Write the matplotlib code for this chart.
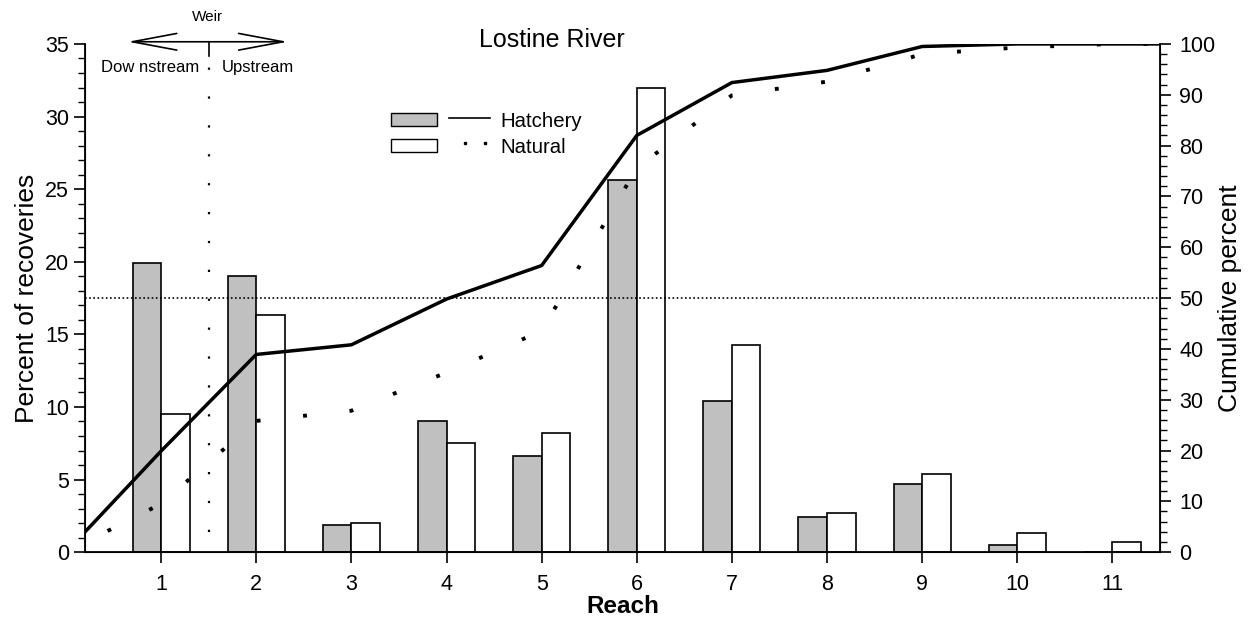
import matplotlib.pyplot as plt
import numpy as np

plt.rcParams['font.family'] = ['Liberation Sans', 'DejaVu Sans']

reach = np.arange(1, 12)
hatchery = [19.9, 19.0, 1.9, 9.0, 6.6, 25.6, 10.4, 2.4, 4.7, 0.5, 0.0]
natural = [9.5, 16.3, 2.0, 7.5, 8.2, 32.0, 14.3, 2.7, 5.4, 1.3, 0.7]
weir_pos = 1.5
x_lo, x_hi = 0.2, 11.5

fig = plt.figure(figsize=(12.5, 6.19), dpi=100)
ax = fig.add_axes([0.068, 0.108, 0.86, 0.821])
ax2 = ax.twinx()

w = 0.3
ax.bar(reach - w / 2, hatchery, width=w, color='#c0c0c0', edgecolor='black', lw=1.2, zorder=2)
ax.bar(reach + w / 2, natural, width=w, color='white', edgecolor='black', lw=1.2, zorder=2)

# cumulative curves: start at 0 before reach 1, run flat to the right edge
xs = np.concatenate([[0], reach, [x_hi]])
cum_h = np.cumsum([0] + hatchery)
cum_n = np.cumsum([0] + natural)
cum_h = np.append(cum_h, cum_h[-1]) / cum_h[-1] * 100
cum_n = np.append(cum_n, cum_n[-1]) / cum_n[-1] * 100
ax2.plot(xs, cum_h, color='black', lw=2.5, zorder=3)
ax2.plot(xs, cum_n, color='black', lw=2.8, ls=(0, (1, 11)), zorder=3)
ax2.axhline(50, color='black', lw=1.2, ls=(0, (1, 1.5)))

# weir marker
ax.plot([weir_pos, weir_pos], [1.4, 34.0], color='black', lw=1.6, ls=(0, (1, 12)), zorder=3)
ax.plot([weir_pos, weir_pos], [34.2, 35.15], color='black', lw=1.2, clip_on=False)
ax.annotate('', xy=(0.65, 35.15), xytext=(2.33, 35.15), annotation_clip=False,
            arrowprops=dict(arrowstyle='<->,head_length=3.2,head_width=0.6', lw=1.2, color='black',
                            shrinkA=0, shrinkB=0))
ax.text(weir_pos - 0.01, 36.85, 'Weir', ha='center', va='center', fontsize=11)
ax.text(1.40, 33.4, 'Dow nstream', ha='right', va='center', fontsize=12)
ax.text(1.64, 33.4, 'Upstream', ha='left', va='center', fontsize=12)
ax.text(5.11, 35.25, 'Lostine River', ha='center', va='center', fontsize=18)

ax.set_xlim(x_lo, x_hi)
ax.set_ylim(0, 35)
ax2.set_ylim(0, 100)
ax.set_xticks(reach)
ax.set_yticks(np.arange(0, 36, 5))
ax.set_yticks(np.arange(0, 36, 1), minor=True)
ax2.set_yticks(np.arange(0, 101, 10))
ax2.set_yticks(np.arange(0, 101, 2), minor=True)

for a in (ax, ax2):
    a.spines['top'].set_visible(False)
    a.tick_params(which='major', length=8, width=1.2, labelsize=15.5, direction='out')
    a.tick_params(which='minor', length=5, width=1)
ax.tick_params(axis='x', pad=8)
ax2.tick_params(axis='y', pad=6)
for s in ('left', 'bottom'):
    ax.spines[s].set_linewidth(1.3)
ax2.spines['right'].set_linewidth(1.3)

ax.set_ylabel('Percent of recoveries', fontsize=19, labelpad=4)
ax2.set_ylabel('Cumulative percent', fontsize=19, labelpad=2)
ax.set_xlabel('Reach', fontsize=17.5, fontweight='bold', labelpad=0)

# legend drawn by hand
lx = 3.42
ax.add_patch(plt.Rectangle((lx, 29.34), 0.485, 0.9, facecolor='#c0c0c0', edgecolor='black', lw=1, clip_on=False))
ax.add_patch(plt.Rectangle((lx, 27.55), 0.485, 0.9, facecolor='white', edgecolor='black', lw=1, clip_on=False))
ax.plot([4.03, 4.46], [29.9, 29.9], color='black', lw=1.2)
ax.plot([4.197, 4.407], [28.17, 28.17], 's', color='black', ms=1.8)
ax.text(4.565, 29.65, 'Hatchery', va='center', fontsize=14.7)
ax.text(4.565, 27.9, 'Natural', va='center', fontsize=14.7)

fig.savefig('out.png', dpi=100)
